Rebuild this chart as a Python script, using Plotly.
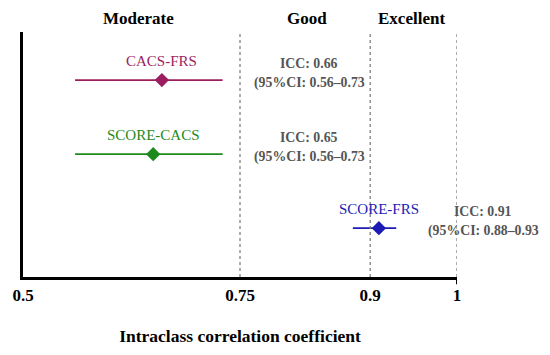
import plotly.graph_objects as go

names = ["CACS-FRS", "SCORE-CACS", "SCORE-FRS"]
icc = [0.66, 0.65, 0.91]
ci_low = [0.56, 0.56, 0.88]
ci_high = [0.73, 0.73, 0.93]
colors = ["#9C1E5E", "#1E8A1E", "#1C1CB4"]
rows = [3, 2, 1]
zones = ["Moderate", "Good", "Excellent"]
zone_centers = [0.6325, 0.827, 0.948]
cut_points = [0.75, 0.9, 1.0]
tick_vals = [0.5, 0.75, 0.9, 1.0]
tick_text = ["0.5", "0.75", "0.9", "1"]

X_MIN, X_MAX = 0.5, 1.0
SERIF = "Liberation Serif, Times New Roman, serif"


def to_paper(v):
    return (v - X_MIN) / (X_MAX - X_MIN)


fig = go.Figure()
for n, v, lo, hi, c, r in zip(names, icc, ci_low, ci_high, colors, rows):
    fig.add_trace(go.Scatter(
        x=[v], y=[r], mode="markers",
        marker=dict(symbol="diamond", size=11, color=c),
        error_x=dict(type="data", symmetric=False,
                     array=[hi - v], arrayminus=[v - lo],
                     color=c, thickness=1.8, width=0),
        showlegend=False, hoverinfo="skip"))
    fig.add_annotation(x=v, y=r, text=n, showarrow=False, xanchor="center",
                       yshift=19, font=dict(family=SERIF, size=15, color=c))
    px = to_paper(hi + 0.1)
    stat_font = dict(family=SERIF, size=13.8, color="#555555", weight="bold")
    fig.add_annotation(x=px, xref="paper", xanchor="center", y=r, showarrow=False,
                       yshift=17, text=f"ICC: {v:.2f}", font=stat_font)
    fig.add_annotation(x=px, xref="paper", xanchor="center", y=r, showarrow=False,
                       yshift=-3, text=f"(95%CI: {lo:.2f}\u2013{hi:.2f}",
                       font=stat_font)

for cp in cut_points:
    fig.add_shape(type="line", x0=cp, x1=cp, y0=0, y1=1, xref="x", yref="paper",
                  line=dict(color="#808080", width=1.3, dash="dot"))

fig.add_shape(type="line", x0=1.0, x1=1.0, y0=0, y1=-0.03, xref="x", yref="paper",
              line=dict(color="black", width=2))

for z, zc in zip(zones, zone_centers):
    fig.add_annotation(x=zc, y=1, xref="x", yref="paper", yanchor="bottom",
                       xanchor="center", yshift=2, text=z, showarrow=False,
                       font=dict(family=SERIF, size=17, color="black",
                                 weight="bold"))

fig.update_xaxes(range=[X_MIN, X_MAX], tickvals=tick_vals, ticktext=tick_text,
                 showgrid=False, zeroline=False, showline=True,
                 linecolor="black", linewidth=2.5, ticks="", automargin=False,
                 tickfont=dict(family=SERIF, size=17, color="black", weight="bold"),
                 ticklabelstandoff=1,
                 title=dict(text="Intraclass correlation coefficient",
                            font=dict(family=SERIF, size=17.5, color="black",
                                      weight="bold"),
                            standoff=26))
fig.update_yaxes(range=[0.34, 3.65], showticklabels=False, showgrid=False,
                 automargin=False,
                 zeroline=False, showline=True, linecolor="black", linewidth=2.5)

# page body has an 8px offset; margins compensate so the plot area lands at
# x 23..457, y 32..277 in the photographed window
fig.update_layout(width=550, height=355,
                  margin=dict(l=15, r=101, t=24, b=86),
                  plot_bgcolor="white", paper_bgcolor="white")

fig.write_html("out.html")
